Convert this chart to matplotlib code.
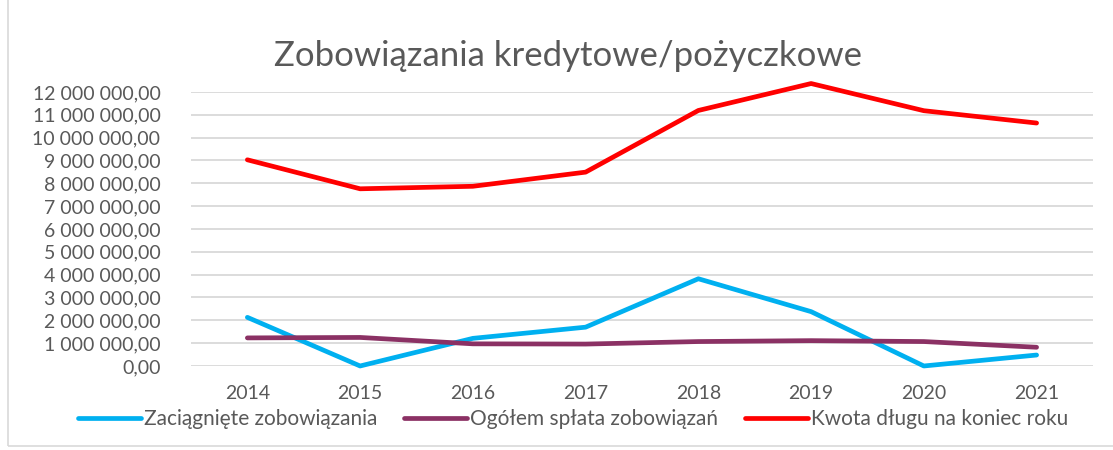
import matplotlib.pyplot as plt
from matplotlib.ticker import FuncFormatter, MultipleLocator
from matplotlib.patches import Rectangle

years = ['2014', '2015', '2016', '2017', '2018', '2019', '2020', '2021']
zaciagniete = [2130000, 0, 1210000, 1700000, 3820000, 2380000, 0, 480000]
splata = [1230000, 1250000, 970000, 960000, 1070000, 1110000, 1070000, 820000]
kwota_dlugu = [9030000, 7760000, 7870000, 8490000, 11190000, 12370000, 11180000, 10640000]

series = [
    ('Zaciągnięte zobowiązania', zaciagniete, '#00B0F0'),
    ('Ogółem spłata zobowiązań', splata, '#8B3164'),
    ('Kwota długu na koniec roku', kwota_dlugu, '#FF0000'),
]

plt.rcParams['font.family'] = ['Lato', 'DejaVu Sans']
text_color = '#595959'

fig = plt.figure(figsize=(11.13, 4.5), dpi=100)
ax = fig.add_axes([0.1716, 0.1867, 0.8104, 0.6089])

x = range(len(years))
for label, values, color in series:
    ax.plot(x, values, color=color, lw=3.4, label=label, solid_capstyle='round',
            solid_joinstyle='round', zorder=3, clip_on=False)

ax.set_xlim(-0.5, len(years) - 0.5)
ax.set_ylim(0, 12000000)
ax.yaxis.set_major_locator(MultipleLocator(1000000))
ax.yaxis.set_major_formatter(FuncFormatter(
    lambda v, p: f'{v:,.2f}'.replace(',', ' ').replace('.', ',')))
ax.set_xticks(list(x))
ax.set_xticklabels(years)
ax.grid(axis='y', color='#D9D9D9', lw=1.3)
ax.set_axisbelow(True)
for s in ax.spines.values():
    s.set_visible(False)
ax.tick_params(length=0, labelsize=14, colors=text_color)
ax.tick_params(axis='x', pad=14)
ax.tick_params(axis='y', pad=22)

fig.text(0.51, 0.875, 'Zobowiązania kredytowe/pożyczkowe', ha='center', va='center',
         fontsize=25, color=text_color)

leg = fig.legend(loc='center', bbox_to_anchor=(0.515, 0.068), ncol=3, frameon=False,
                 fontsize=15, handlelength=3.0, handletextpad=0.15, columnspacing=1.3)
for t in leg.get_texts():
    t.set_color(text_color)

fig.patches.append(Rectangle((0.007, 0.01), 1.2, 1.2, transform=fig.transFigure,
                             fill=False, edgecolor='#D9D9D9', lw=1.2))

fig.savefig('out.png', dpi=100)
